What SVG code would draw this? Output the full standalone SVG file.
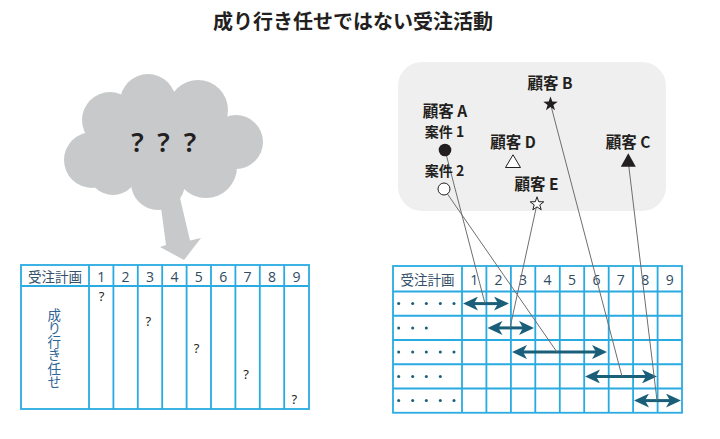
<svg xmlns="http://www.w3.org/2000/svg" width="720" height="439" viewBox="0 0 720 439">
<style>
.title{font-family:"Noto Sans CJK JP","Noto Sans",sans-serif;font-size:20px;font-weight:bold;fill:#231f20}
.grid{fill:none;stroke:#29abe2;stroke-width:1.8}
.hd{font-family:"Noto Sans CJK JP","Noto Sans",sans-serif;font-size:13.5px;fill:#34506b;text-anchor:middle}
.num{font-family:"Open Sans","Noto Sans",sans-serif;font-size:14px;fill:#2f4a63;text-anchor:middle}
.q{font-family:"Noto Sans","DejaVu Sans",sans-serif;font-size:13px;fill:#231f20;text-anchor:middle}
.cq{font-family:"Noto Sans","DejaVu Sans",sans-serif;font-size:27px;font-weight:600;fill:#231f20;text-anchor:middle}
.vt{font-family:"Noto Sans CJK JP",sans-serif;font-size:13.5px;fill:#2f6596;writing-mode:vertical-rl}
.lbl{font-family:"Noto Sans CJK JP","Noto Sans",sans-serif;font-size:15.5px;font-weight:bold;fill:#231f20;text-anchor:middle}
.lbl2{font-family:"Noto Sans CJK JP","Noto Sans",sans-serif;font-size:14px;font-weight:bold;fill:#231f20;text-anchor:middle}
.conn{stroke:#6d6e70;stroke-width:1;fill:none}
.arr{stroke:#1a5f7a;stroke-width:3;fill:none;marker-start:url(#ah);marker-end:url(#ah)}
.dot{fill:#1a5f7a}
.cloud{fill:#c8c9ca}
</style>
<defs>
<marker id="ah" markerUnits="userSpaceOnUse" markerWidth="16" markerHeight="14" refX="5" refY="7" orient="auto-start-reverse" viewBox="0 0 16 14">
<path d="M0,0 L15,7 L0,14 L4,7 Z" fill="#1a5f7a"/>
</marker>
</defs>

<text class="title" x="353" y="29" text-anchor="middle">成り行き任せではない受注活動</text>

<g id="cloud">
<circle class="cloud" cx="92" cy="160" r="28"/>
<circle class="cloud" cx="110" cy="120" r="28"/>
<circle class="cloud" cx="148" cy="102" r="28"/>
<circle class="cloud" cx="198" cy="110" r="30"/>
<circle class="cloud" cx="236" cy="142" r="27"/>
<circle class="cloud" cx="206" cy="167" r="31"/>
<circle class="cloud" cx="158" cy="183" r="27"/>
<circle class="cloud" cx="113" cy="170" r="25"/>
<ellipse class="cloud" cx="165" cy="145" rx="62" ry="45"/>
<path class="cloud" d="M160,200 L166,245 L160,247 L184,260 L201,238 L190,240.5 L180,198 Z"/>
<text class="cq" x="137.5" y="152">?</text>
<text class="cq" x="163.5" y="152">?</text>
<text class="cq" x="190" y="152">?</text>
</g>

<g id="left-table">
<rect class="grid" x="21" y="265" width="288" height="144"/>
<line class="grid" x1="21" y1="286" x2="309" y2="286"/>
<path class="grid" d="M89,265V409 M113.4,265V409 M137.8,265V409 M162.2,265V409 M186.6,265V409 M211,265V409 M235.4,265V409 M259.8,265V409 M284.2,265V409"/>
<text class="hd" x="55" y="282">受注計画</text>
<text class="num" x="101.2" y="282">1</text>
<text class="num" x="125.6" y="282">2</text>
<text class="num" x="150" y="282">3</text>
<text class="num" x="174.4" y="282">4</text>
<text class="num" x="198.8" y="282">5</text>
<text class="num" x="223.2" y="282">6</text>
<text class="num" x="247.6" y="282">7</text>
<text class="num" x="272" y="282">8</text>
<text class="num" x="296.4" y="282">9</text>
<text class="vt" x="54.3" y="308">成り行き任せ</text>
<text class="q" x="101.5" y="301">?</text>
<text class="q" x="148.3" y="326">?</text>
<text class="q" x="196.7" y="352.5">?</text>
<text class="q" x="246" y="378.5">?</text>
<text class="q" x="294.3" y="404">?</text>
</g>

<g id="customer-panel">
<rect x="398" y="62" width="268" height="149" rx="24" fill="#efefef"/>
</g>

<g id="right-table">
<rect class="grid" x="393" y="266" width="289" height="146.75"/>
<path class="grid" d="M393,291.5H682 M393,315.75H682 M393,340H682 M393,364.25H682 M393,388.5H682"/>
<path class="grid" d="M462,266V412.75 M486.4,266V412.75 M510.9,266V412.75 M535.3,266V412.75 M559.8,266V412.75 M584.2,266V412.75 M608.7,266V412.75 M633.1,266V412.75 M657.6,266V412.75"/>
<text class="hd" x="427.5" y="284.5">受注計画</text>
<text class="num" x="474.2" y="285">1</text>
<text class="num" x="498.6" y="285">2</text>
<text class="num" x="523.1" y="285">3</text>
<text class="num" x="547.5" y="285">4</text>
<text class="num" x="572" y="285">5</text>
<text class="num" x="596.4" y="285">6</text>
<text class="num" x="620.8" y="285">7</text>
<text class="num" x="645.3" y="285">8</text>
<text class="num" x="669.7" y="285">9</text>
<g id="row-dots">
<circle class="dot" cx="398.7" cy="303.6" r="1.5"/><circle class="dot" cx="412.7" cy="303.6" r="1.5"/><circle class="dot" cx="426.3" cy="303.6" r="1.5"/><circle class="dot" cx="440.3" cy="303.6" r="1.5"/><circle class="dot" cx="454" cy="303.6" r="1.5"/>
<circle class="dot" cx="398.7" cy="327.9" r="1.5"/><circle class="dot" cx="412.7" cy="327.9" r="1.5"/><circle class="dot" cx="426.3" cy="327.9" r="1.5"/>
<circle class="dot" cx="398.7" cy="352.1" r="1.5"/><circle class="dot" cx="412.7" cy="352.1" r="1.5"/><circle class="dot" cx="426.3" cy="352.1" r="1.5"/><circle class="dot" cx="440.3" cy="352.1" r="1.5"/><circle class="dot" cx="454" cy="352.1" r="1.5"/>
<circle class="dot" cx="398.7" cy="376.4" r="1.5"/><circle class="dot" cx="412.7" cy="376.4" r="1.5"/><circle class="dot" cx="426.3" cy="376.4" r="1.5"/><circle class="dot" cx="440.3" cy="376.4" r="1.5"/>
<circle class="dot" cx="398.7" cy="400.6" r="1.5"/><circle class="dot" cx="412.7" cy="400.6" r="1.5"/><circle class="dot" cx="426.3" cy="400.6" r="1.5"/><circle class="dot" cx="440.3" cy="400.6" r="1.5"/><circle class="dot" cx="454" cy="400.6" r="1.5"/>
</g>
</g>

<g id="schedule-arrows">
<line class="arr" x1="473" y1="303.6" x2="499" y2="303.6"/>
<line class="arr" x1="497.5" y1="327.9" x2="524" y2="327.9"/>
<line class="arr" x1="522" y1="352.1" x2="597" y2="352.1"/>
<line class="arr" x1="595" y1="376.4" x2="647" y2="376.4"/>
<line class="arr" x1="644" y1="400.6" x2="671" y2="400.6"/>
</g>

<g id="connectors">
<line class="conn" x1="445" y1="150" x2="485" y2="303.6"/>
<line class="conn" x1="444" y1="189" x2="557" y2="352.1"/>
<line class="conn" x1="537" y1="204" x2="510" y2="327.9"/>
<line class="conn" x1="550.5" y1="104" x2="622" y2="376.4"/>
<line class="conn" x1="628.3" y1="162" x2="657" y2="400.6"/>
</g>

<g id="customer-A">
<text class="lbl" x="445" y="117">顧客 A</text>
<text class="lbl2" x="444.5" y="136.5">案件 1</text>
<circle cx="445" cy="150" r="6.3" fill="#231f20"/>
<text class="lbl2" x="444.5" y="175.5">案件 2</text>
<circle cx="444" cy="189" r="6" fill="#fff" stroke="#231f20" stroke-width="1"/>
</g>
<g id="customer-B">
<text class="lbl" x="550" y="88.5">顧客 B</text>
<path d="M550.5,96.4 L552.3,101.6 L557.7,101.7 L553.4,105 L555,110.2 L550.5,107 L546,110.2 L547.6,105 L543.3,101.7 L548.7,101.6 Z" fill="#231f20"/>
</g>
<g id="customer-C">
<text class="lbl" x="628" y="147.5">顧客 C</text>
<path d="M628.3,153.3 L635.8,166.7 L620.8,166.7 Z" fill="#231f20"/>
</g>
<g id="customer-D">
<text class="lbl" x="513" y="148">顧客 D</text>
<path d="M513,154.8 L520.5,167.5 L505.5,167.5 Z" fill="#fff" stroke="#231f20" stroke-width="1"/>
</g>
<g id="customer-E">
<text class="lbl" x="536.5" y="190">顧客 E</text>
<path d="M537,196.8 L538.7,201.7 L543.8,201.8 L539.8,204.9 L541.2,209.8 L537,206.9 L532.8,209.8 L534.2,204.9 L530.2,201.8 L535.3,201.7 Z" fill="#fff" stroke="#231f20" stroke-width="1"/>
</g>
</svg>
